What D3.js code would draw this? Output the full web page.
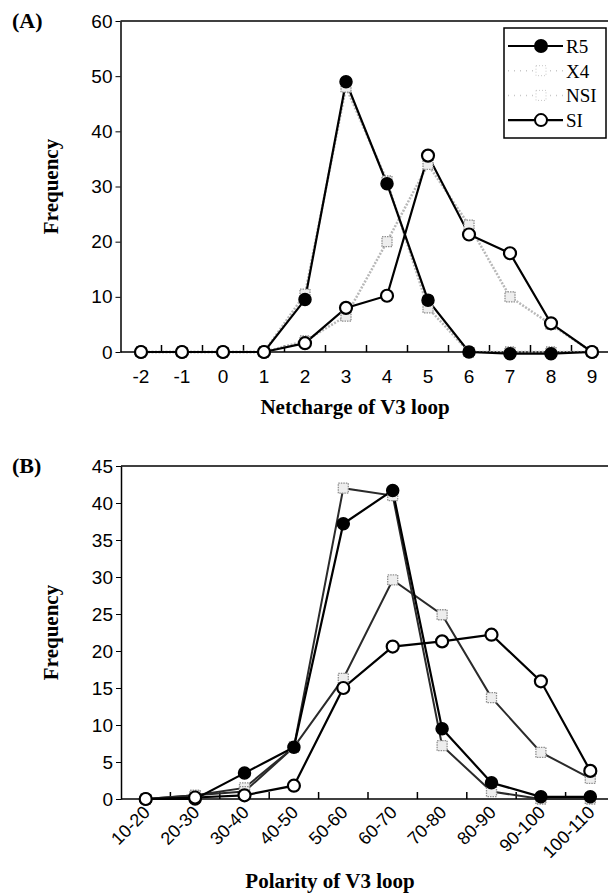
<!DOCTYPE html>
<html>
<head>
<meta charset="utf-8">
<script src="https://cdn.jsdelivr.net/npm/d3@7"></script>
<style>
  body { margin: 0; background: #fff; }
  svg { display: block; }
</style>
</head>
<body>
<script>
// panel A: net charge
var chargeCats = ['-2', '-1', '0', '1', '2', '3', '4', '5', '6', '7', '8', '9'];
var chargeR5  = [0, 0, 0, 0, 9.5, 49, 30.5, 9.4, 0, -0.3, -0.3, 0];
var chargeNSI = [0, 0, 0, 0, 10.5, 48, 31, 8, 0, 0, 0, 0];
var chargeX4  = [0, 0, 0, 0, 2, 6.5, 20, 34, 23, 10, 5, 0];
var chargeSI  = [0, 0, 0, 0, 1.6, 8, 10.2, 35.6, 21.3, 17.9, 5.2, 0];
var chargeTicks = [0, 10, 20, 30, 40, 50, 60];

// panel B: polarity
var polCats = ['10-20', '20-30', '30-40', '40-50', '50-60', '60-70', '70-80', '80-90', '90-100', '100-110'];
var polR5  = [0, 0, 3.5, 7, 37.2, 41.7, 9.5, 2.2, 0.3, 0.3];
var polNSI = [0, 0.5, 1.5, 7, 42, 41, 7.2, 1, 0, 0];
var polX4  = [0, 0.5, 1, 7, 16.3, 29.6, 24.9, 13.7, 6.3, 2.8];
var polSI  = [0, 0.2, 0.5, 1.8, 15, 20.6, 21.3, 22.2, 15.9, 3.8];
var polTicks = [0, 5, 10, 15, 20, 25, 30, 35, 40, 45];

var legendNames = ['R5', 'X4', 'NSI', 'SI'];

var svg = d3.select('body').append('svg').attr('width', 608).attr('height', 895);

var sans = 'Liberation Sans, Arial, sans-serif';
var serif = 'Liberation Serif, Times New Roman, serif';

function drawPanel(opt){
    var g = svg.append('g');
    var x = d3.scaleBand().domain(opt.cats).range(opt.xr).padding(0);
    var y = d3.scaleLinear().domain(opt.yd).range(opt.yr);

    // top border
    g.append('line').attr('x1', opt.xr[0]).attr('x2', 608)
        .attr('y1', opt.yr[1]).attr('y2', opt.yr[1])
        .attr('stroke', 'black').attr('stroke-width', 1.5);

    // y axis
    var ya = g.append('g').attr('transform', 'translate(' + opt.xr[0] + ',0)')
        .call(d3.axisLeft(y).tickValues(opt.yticks).tickSize(5).tickSizeOuter(0).tickPadding(3));
    ya.select('.domain').attr('stroke-width', 1.5);
    ya.selectAll('text').attr('font-family', sans).attr('font-size', 19).attr('fill', 'black');

    // x axis line + inward ticks at category boundaries
    g.append('line').attr('x1', opt.xr[0]).attr('x2', 608)
        .attr('y1', opt.yr[0]).attr('y2', opt.yr[0])
        .attr('stroke', 'black').attr('stroke-width', 1.5);
    g.selectAll('.bt').data(opt.cats.slice(1)).enter().append('line')
        .attr('x1', function(d){ return x(d); }).attr('x2', function(d){ return x(d); })
        .attr('y1', opt.yr[0]).attr('y2', opt.yr[0] - 7)
        .attr('stroke', 'black').attr('stroke-width', 1.5);

    // x labels
    var lab = g.selectAll('.xl').data(opt.cats).enter().append('text')
        .attr('font-family', sans).attr('font-size', opt.rotate ? 18 : 19).attr('fill', 'black')
        .text(function(d){ return d; });
    if (opt.rotate) {
        lab.attr('text-anchor', 'end')
           .attr('transform', function(d){
               return 'translate(' + (x(d) + x.bandwidth() / 2 + 1) + ',' + (opt.yr[0] + 10) + ') rotate(-45)';
           })
           .attr('dy', '0.35em');
    } else {
        lab.attr('text-anchor', 'middle')
           .attr('x', function(d){ return x(d) + x.bandwidth() / 2; })
           .attr('y', opt.yr[0] + 31);
    }

    // titles
    g.append('text').attr('x', opt.titleX).attr('y', opt.titleY).attr('text-anchor', 'middle')
        .attr('font-family', serif).attr('font-weight', 'bold').attr('font-size', 21)
        .text(opt.title);
    var cy = (opt.yr[0] + opt.yr[1]) / 2;
    g.append('text').attr('transform', 'translate(58,' + cy + ') rotate(-90)')
        .attr('text-anchor', 'middle')
        .attr('font-family', serif).attr('font-weight', 'bold').attr('font-size', 21)
        .text('Frequency');
    g.append('text').attr('x', 12).attr('y', opt.yr[1] + 7)
        .attr('font-family', serif).attr('font-weight', 'bold').attr('font-size', 22)
        .text(opt.tag);

    var cx = function(i){ return x(opt.cats[i]) + x.bandwidth() / 2; };
    var line = d3.line().x(function(d, i){ return cx(i); }).y(function(d){ return y(d); });

    // gray series (squares) under the black ones
    [opt.nsi, opt.x4].forEach(function(s){
        g.append('path').datum(s).attr('d', line).attr('fill', 'none')
            .attr('stroke', opt.grayLine).attr('stroke-width', opt.grayWidth)
            .attr('stroke-dasharray', opt.grayDash);
    });
    [opt.r5, opt.si].forEach(function(s){
        g.append('path').datum(s).attr('d', line).attr('fill', 'none')
            .attr('stroke', 'black').attr('stroke-width', 2.2);
    });
    [opt.nsi, opt.x4].forEach(function(s){
        g.selectAll(null).data(s).enter().append('rect')
            .attr('x', function(d, i){ return cx(i) - 5; })
            .attr('y', function(d){ return y(d) - 5; })
            .attr('width', 10).attr('height', 10)
            .attr('fill', '#eeeeee').attr('stroke', '#8f8f8f').attr('stroke-width', 1.3)
            .attr('stroke-dasharray', '1.5,1');
    });
    g.selectAll(null).data(opt.r5).enter().append('circle')
        .attr('cx', function(d, i){ return cx(i); }).attr('cy', function(d){ return y(d); })
        .attr('r', 6).attr('fill', 'black').attr('stroke', 'black').attr('stroke-width', 1.5);
    g.selectAll(null).data(opt.si).enter().append('circle')
        .attr('cx', function(d, i){ return cx(i); }).attr('cy', function(d){ return y(d); })
        .attr('r', 6).attr('fill', 'white').attr('stroke', 'black').attr('stroke-width', 2.2);
    return g;
}

drawPanel({
    cats: chargeCats, r5: chargeR5, nsi: chargeNSI, x4: chargeX4, si: chargeSI,
    xr: [120.5, 612.5], yd: [0, 60], yr: [352, 21], yticks: chargeTicks,
    title: 'Netcharge of V3 loop', titleX: 355, titleY: 414, tag: '(A)',
    grayLine: '#b8b8b8', grayWidth: 2.5, grayDash: '2,1.5', rotate: false
});
drawPanel({
    cats: polCats, r5: polR5, nsi: polNSI, x4: polX4, si: polSI,
    xr: [121, 615], yd: [0, 45], yr: [799, 466], yticks: polTicks,
    title: 'Polarity of V3 loop', titleX: 330, titleY: 888, tag: '(B)',
    grayLine: '#2a2a2a', grayWidth: 2, grayDash: null, rotate: true
});

// legend
var leg = svg.append('g');
leg.append('rect').attr('x', 504).attr('y', 28).attr('width', 102).attr('height', 110)
    .attr('fill', 'white').attr('stroke', 'black').attr('stroke-width', 1.5);
legendNames.forEach(function(name, i){
    var ly = 46 + i * 24.7;
    var gray = (name === 'X4' || name === 'NSI');
    leg.append('line').attr('x1', 508).attr('x2', 563).attr('y1', ly).attr('y2', ly)
        .attr('stroke', gray ? '#c8c8c8' : 'black').attr('stroke-width', gray ? 1.5 : 2.2)
        .attr('stroke-dasharray', gray ? '1,5' : null);
    if (gray) {
        leg.append('rect').attr('x', 536).attr('y', ly - 5).attr('width', 10).attr('height', 10)
            .attr('fill', 'white').attr('stroke', '#c8c8c8').attr('stroke-width', 1)
            .attr('stroke-dasharray', '1,2');
    } else {
        leg.append('circle').attr('cx', 541).attr('cy', ly).attr('r', 6)
            .attr('fill', name === 'R5' ? 'black' : 'white')
            .attr('stroke', 'black').attr('stroke-width', 2);
    }
    leg.append('text').attr('x', 566).attr('y', ly + 7)
        .attr('font-family', serif).attr('font-size', 19).text(name);
});
</script>
</body>
</html>
